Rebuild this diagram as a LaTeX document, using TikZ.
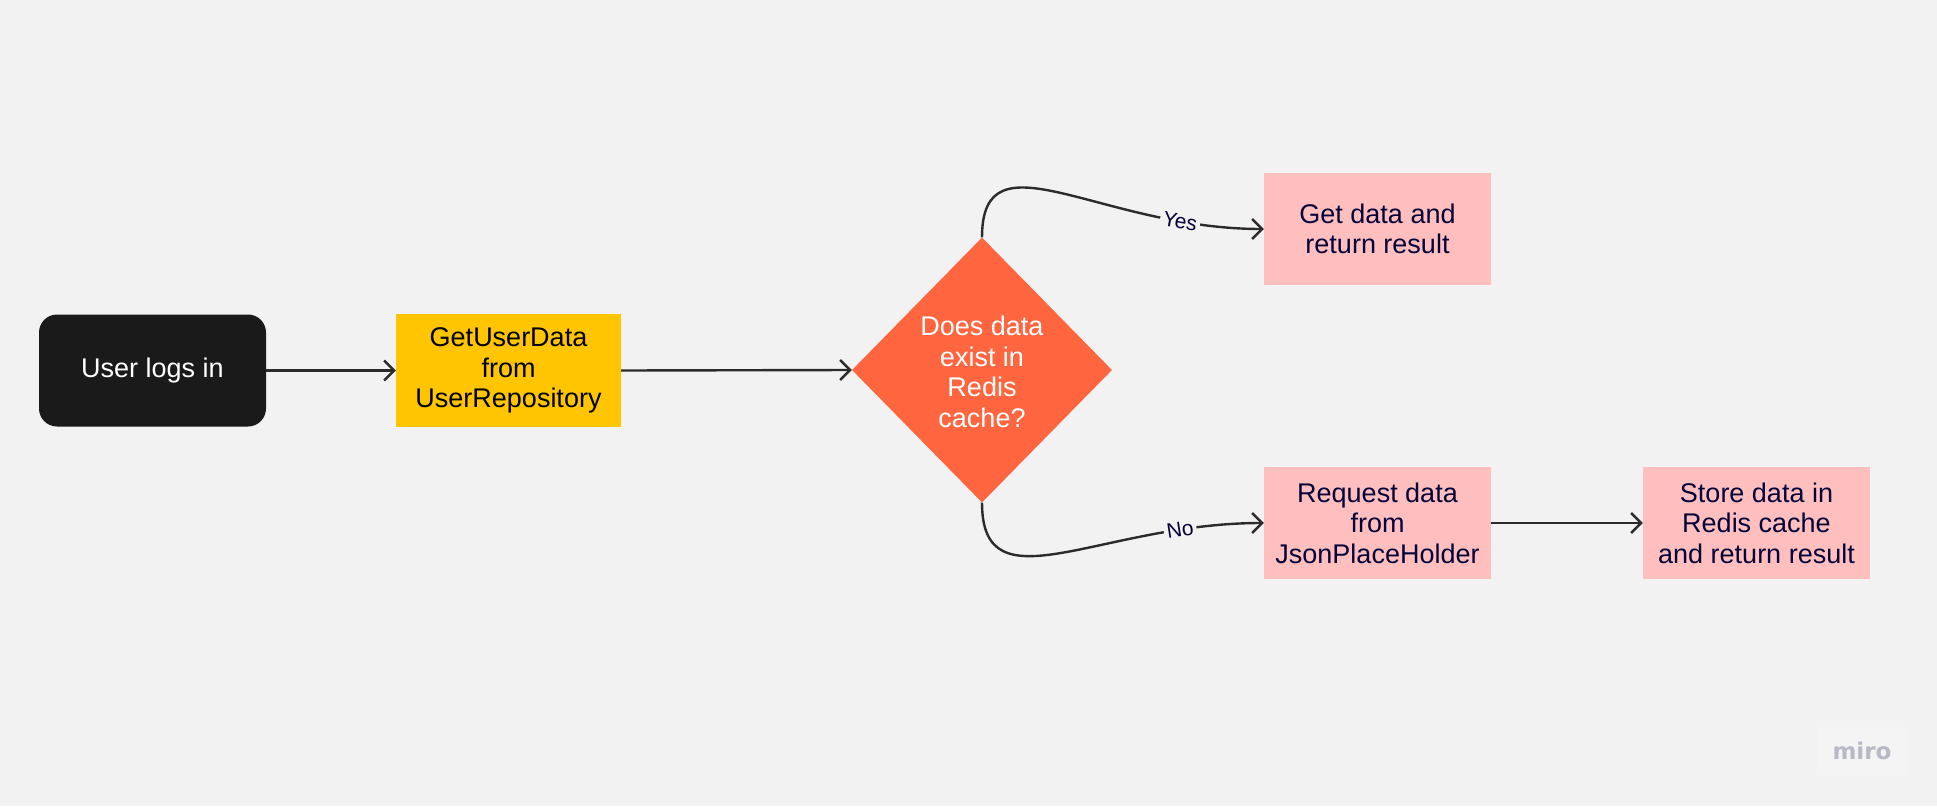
\documentclass[tikz,border=0pt]{standalone}
\usepackage{fontspec}
\setmainfont{Liberation Sans}
\newfontfamily\logofont{DejaVu Sans}
\usetikzlibrary{shapes.geometric,arrows.meta}
\definecolor{bg}{HTML}{F2F2F2}
\definecolor{blackbox}{HTML}{1A1A1A}
\definecolor{yellowbox}{HTML}{FFC500}
\definecolor{orangebox}{HTML}{FF6640}
\definecolor{pinkbox}{HTML}{FFBFBF}
\definecolor{navy}{HTML}{050038}
\definecolor{linecol}{HTML}{2B2B2B}
\definecolor{logogray}{HTML}{B8B9C6}
\definecolor{logobg}{HTML}{F4F4F4}
\tikzset{
  boxtext/.style={font=\fontsize{27}{30.5}\selectfont, align=center},
  startbox/.style={boxtext, fill=blackbox, text=white, rounded corners=18pt,
    minimum width=227pt, minimum height=112pt, inner sep=0pt},
  procbox/.style={boxtext, fill=yellowbox, text=black,
    minimum width=225pt, minimum height=113pt, inner sep=0pt},
  resbox/.style={boxtext, fill=pinkbox, text=navy,
    minimum width=227pt, minimum height=112pt, inner sep=0pt},
  decbox/.style={diamond, fill=orangebox, minimum width=260pt,
    minimum height=265pt, inner sep=0pt},
  arr/.style={draw=linecol, line width=2.4pt,
    -{Straight Barb[length=10pt,width=20pt,line width=2.4pt]}},
  edgelab/.style={font=\fontsize{21}{23}\selectfont, text=navy, fill=bg,
    inner sep=3pt, sloped}
}
\begin{document}
\begin{tikzpicture}[x=1pt,y=-1pt]
\fill[bg] (0,0) rectangle (1937,806);
\useasboundingbox (0,0) rectangle (1937,806);

\node[startbox] (user) at (152.5,370.5) {User logs in};
\node[procbox] (getuser) at (508.5,370.5) {GetUserData\\from\\UserRepository};
\node[decbox] (dia) at (982,370) {};
\node[boxtext, text=white] (diatext) at (982,372) {Does data\\exist in\\Redis\\cache?};
\node[resbox] (getdata) at (1377.5,229) {Get data and\\return result};
\node[resbox] (reqdata) at (1377.5,523) {Request data\\from\\JsonPlaceHolder};
\node[resbox] (store) at (1756.5,523) {Store data in\\Redis cache\\and return result};

\draw[arr] (user.east) -- (getuser.west);
\draw[arr] (getuser.east) -- (dia.west);
\draw[arr] (dia.north) .. controls +(0,-107) and +(-164,0) .. node[edgelab,pos=0.82] {Yes} (getdata.west);
\draw[arr] (dia.south) .. controls +(0,107) and +(-164,0) .. node[edgelab,pos=0.82] {No} (reqdata.west);
\draw[arr] (reqdata.east) -- (store.west);

\node[fill=logobg, minimum width=91pt, minimum height=48pt, inner sep=0pt,
  font=\logofont\bfseries\fontsize{23}{26}\selectfont, text=logogray] (logo) at (1862,751) {miro};
\end{tikzpicture}
\end{document}
